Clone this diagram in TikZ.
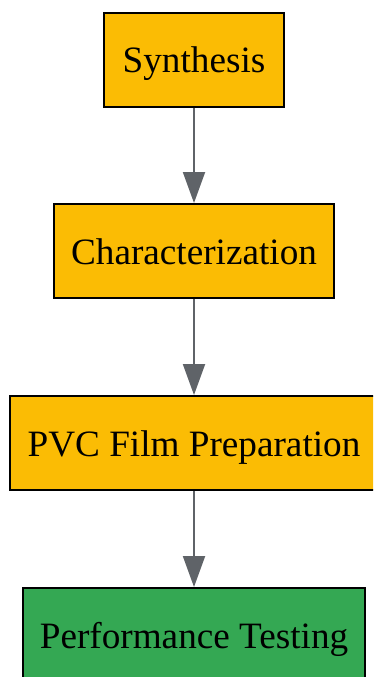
\documentclass[tikz,border=0pt]{standalone}
\usepackage{fontspec}
\setmainfont{Liberation Serif}
\usetikzlibrary{arrows.meta}
\definecolor{boxorange}{HTML}{FBBC04}
\definecolor{boxgreen}{HTML}{34A853}
\definecolor{arrowgray}{HTML}{5F6368}
\begin{document}
\begin{tikzpicture}[x=1pt,y=-1pt,
  box/.style={draw=black, line width=2pt, rectangle, minimum height=94pt, inner sep=0pt,
    text height=28pt, text depth=2pt,
    font=\fontsize{37.2}{44}\selectfont},
  flow/.style={draw=arrowgray, line width=2pt, -{Triangle[width=22pt,length=31pt]}}]
\useasboundingbox (0,0) rectangle (373,677);
\clip (0,0) rectangle (373,677);
\node[box, fill=boxorange, minimum width=180pt] (syn) at (194,60) {Synthesis};
\node[box, fill=boxorange, minimum width=280pt] (char) at (194,251) {Characterization};
\node[box, fill=boxorange, minimum width=368pt] (pvc) at (194,443) {PVC Film Preparation};
\node[box, fill=boxgreen, minimum width=342pt] (perf) at (194,635) {Performance Testing};
\draw[flow] (syn.south) -- (char.north);
\draw[flow] (char.south) -- (pvc.north);
\draw[flow] (pvc.south) -- (perf.north);
\end{tikzpicture}
\end{document}
